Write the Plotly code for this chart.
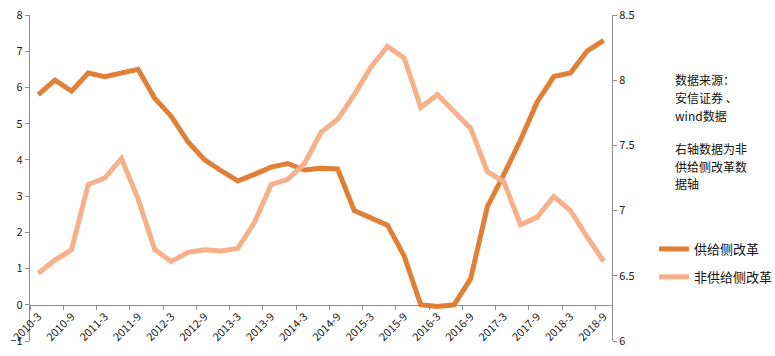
import plotly.graph_objects as go

categories = []
for yr in range(2010, 2019):
    for m in (3, 6, 9, 12):
        if yr == 2018 and m > 9:
            break
        categories.append(f"{yr}-{m}")

supply_side = [5.8, 6.2, 5.9, 6.4, 6.3, 6.4, 6.5, 5.7, 5.2, 4.5, 4.0, 3.7, 3.42, 3.6, 3.8, 3.9,
               3.72, 3.77, 3.75, 2.6, 2.4, 2.2, 1.35, 0.0, -0.05, 0.0, 0.72, 2.7, 3.6, 4.55,
               5.6, 6.3, 6.4, 7.0, 7.3]
non_supply_side = [6.52, 6.62, 6.70, 7.20, 7.25, 7.40, 7.09, 6.70, 6.61, 6.68, 6.70, 6.69, 6.71,
                   6.91, 7.20, 7.24, 7.36, 7.60, 7.70, 7.89, 8.10, 8.26, 8.17, 7.79, 7.89, 7.76,
                   7.63, 7.30, 7.22, 6.89, 6.95, 7.11, 7.00, 6.80, 6.61]

series_names = ["供给侧改革", "非供给侧改革"]
note_lines = ["数据来源：", "安信证券 、", "wind数据", "右轴数据为非", "供给侧改革数", "据轴"]
note_line_y = [80, 97.5, 115, 148.5, 166, 183.5]  # pixel rows of note lines

idx = list(range(len(categories)))
label_idx = idx[::2]
label_text = [categories[i] for i in label_idx]

DARK = "#E07F35"
LIGHT = "#F8B08A"
AX = "#8C8C8C"
FONT = "Noto Sans CJK SC"

W, H = 775, 356
ML, MR, MT, MB = 30, 163, 15, 15
PW = W - ML - MR
PH = H - MT - MB

fig = go.Figure()
fig.add_trace(go.Scatter(x=idx, y=supply_side, name=series_names[0], mode="lines",
                         line=dict(color=DARK, width=5), yaxis="y", legendgroup="a"))
fig.add_trace(go.Scatter(x=idx, y=non_supply_side, name=series_names[1], mode="lines",
                         line=dict(color=LIGHT, width=5), yaxis="y2", legendgroup="b"))

annotations = [dict(text=t, xref="paper", yref="paper", x=(674 - ML) / PW,
                    y=(H - MB - py) / PH, xanchor="left", yanchor="middle", align="left",
                    showarrow=False, borderpad=0,
                    font=dict(size=12, color="#111", family=FONT))
               for t, py in zip(note_lines, note_line_y)]

fig.update_layout(
    width=W, height=H,
    margin=dict(l=ML, r=MR, t=MT, b=MB, autoexpand=False),
    paper_bgcolor="white", plot_bgcolor="white",
    font=dict(family=FONT, size=11, color="#222"),
    showlegend=True,
    legend=dict(x=(654 - ML) / PW, y=(H - MB - 234) / PH, xanchor="left", yanchor="top",
                font=dict(size=13, color="#111", family=FONT),
                itemwidth=30, traceorder="grouped", tracegroupgap=8,
                bgcolor="rgba(0,0,0,0)"),
    xaxis=dict(range=[-0.5, len(categories) - 0.5], tickmode="array",
               tickvals=label_idx, ticktext=label_text, tickangle=-45,
               ticks="", showgrid=False, zeroline=False, automargin=False,
               showline=True, linecolor=AX, linewidth=1.3,
               anchor="free", position=1/9,
               tickfont=dict(size=11, color="#222"),
               minor=dict(tickvals=[i - 0.5 for i in idx[::2]] + [len(categories) - 0.5],
                          ticks="outside", ticklen=4, tickcolor=AX, showgrid=False)),
    yaxis=dict(range=[-1, 8], dtick=1, showgrid=False, zeroline=False, automargin=False,
               showline=True, linecolor=AX, linewidth=1.3,
               ticks="outside", ticklen=4, tickcolor=AX,
               tickfont=dict(size=11, color="#222")),
    yaxis2=dict(range=[6, 8.5], dtick=0.5, overlaying="y", side="right",
                showgrid=False, zeroline=False, automargin=False,
                showline=True, linecolor=AX, linewidth=1.3,
                ticks="outside", ticklen=4, tickcolor=AX,
                tickfont=dict(size=11, color="#222")),
    annotations=annotations,
)

fig.write_html("out.html", config={"displayModeBar": False},
               post_script="document.body.style.margin='0';")
